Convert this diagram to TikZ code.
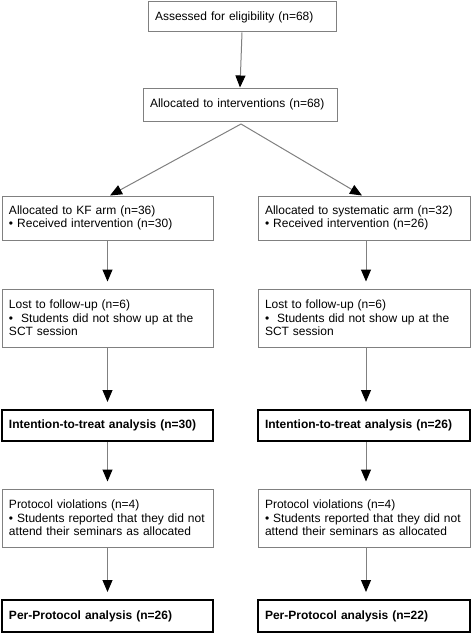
\documentclass[tikz,border=0pt]{standalone}
\usepackage{fontspec}
\setmainfont{Liberation Sans}
\usetikzlibrary{arrows.meta}
\definecolor{linegray}{HTML}{808080}
\tikzset{
  thinbox/.style={draw=linegray, line width=1pt, inner xsep=7pt, inner ysep=0pt,
    align=left, font=\fontsize{12}{13.3}\selectfont},
  thickbox/.style={draw=black, line width=2pt, inner xsep=7pt, inner ysep=0pt,
    align=left, font=\fontsize{12}{13.3}\selectfont\bfseries},
  flow/.style={draw=linegray, line width=1pt, -{Triangle[length=12pt,width=10pt,color=black]}},
  gapflow/.style={flow, shorten >=7pt},
}
\begin{document}
\begin{tikzpicture}[x=1pt,y=-1pt]
\useasboundingbox (0,0) rectangle (472,634);
\node[thinbox, minimum width=188pt, minimum height=30pt, text width=174pt] (elig) at (242,17) {Assessed for eligibility (n=68)};
\node[thinbox, minimum width=194pt, minimum height=33pt, text width=180pt] (alloc) at (240,104.5) {Allocated to interventions (n=68)};
\node[thinbox, minimum width=211pt, minimum height=44pt, text width=197pt] (kf) at (107.5,218) {Allocated to KF arm (n=36)\\\textbullet\ Received intervention (n=30)};
\node[thinbox, minimum width=212pt, minimum height=44pt, text width=198pt] (sys) at (364,218) {Allocated to systematic arm (n=32)\\\textbullet\ Received intervention (n=26)};
\node[thinbox, minimum width=211pt, minimum height=58pt, text width=197pt] (lostL) at (107.5,318) {Lost to follow-up (n=6)\\\textbullet\ \ Students did not show up at the\\SCT session};
\node[thinbox, minimum width=212pt, minimum height=58pt, text width=198pt] (lostR) at (364,318) {Lost to follow-up (n=6)\\\textbullet\ \ Students did not show up at the\\SCT session};
\node[thickbox, minimum width=211pt, minimum height=31pt, text width=197pt] (ittL) at (107.5,425.5) {Intention-to-treat analysis (n=30)};
\node[thickbox, minimum width=212pt, minimum height=31pt, text width=198pt] (ittR) at (364,425.5) {Intention-to-treat analysis (n=26)};
\node[thinbox, minimum width=211pt, minimum height=58pt, text width=197pt] (protL) at (107.5,518) {Protocol violations (n=4)\\\textbullet\ Students reported that they did not\\attend their seminars as allocated};
\node[thinbox, minimum width=212pt, minimum height=58pt, text width=198pt] (protR) at (364,518) {Protocol violations (n=4)\\\textbullet\ Students reported that they did not\\attend their seminars as allocated};
\node[thickbox, minimum width=211pt, minimum height=32pt, text width=197pt] (ppL) at (107.5,616) {Per-Protocol analysis (n=26)};
\node[thickbox, minimum width=212pt, minimum height=32pt, text width=198pt] (ppR) at (364,616) {Per-Protocol analysis (n=22)};
\coordinate (split) at (241,124);
\draw[flow] (elig.south) -- (alloc.north);
\draw[flow] (split) -- ([xshift=2.5pt]kf.north);
\draw[flow] (split) -- ([xshift=-2pt]sys.north);
\draw[gapflow] (kf.south) -- (lostL.north);
\draw[gapflow] (lostL.south) -- (ittL.north);
\draw[gapflow] (ittL.south) -- (protL.north);
\draw[gapflow] (protL.south) -- (ppL.north);
\draw[gapflow] ([xshift=2pt]sys.south) -- ([xshift=2pt]lostR.north);
\draw[gapflow] ([xshift=2pt]lostR.south) -- ([xshift=2pt]ittR.north);
\draw[gapflow] ([xshift=2pt]ittR.south) -- ([xshift=2pt]protR.north);
\draw[gapflow] ([xshift=2pt]protR.south) -- ([xshift=2pt]ppR.north);
\end{tikzpicture}
\end{document}
